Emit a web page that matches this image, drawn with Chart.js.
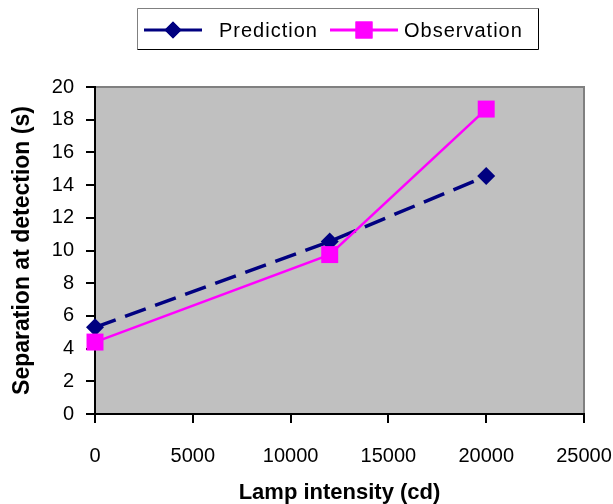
<!DOCTYPE html>
<html>
<head>
<meta charset="utf-8">
<script src="https://cdn.jsdelivr.net/npm/chart.js@4/dist/chart.umd.min.js"></script>
<style>
  html, body { margin: 0; padding: 0; background: #fff; }
  #wrap { width: 613px; height: 504px; }
</style>
</head>
<body>
<div id="wrap"><canvas id="chart" width="613" height="504"></canvas></div>
<script>
  // data
  const intensities = [0, 12000, 20000];
  const predicted = [5.3, 10.55, 14.55];
  const observed = [4.4, 9.75, 18.65];
  const seriesNames = ['Prediction', 'Observation'];
  const xTitle = 'Lamp intensity (cd)';
  const yTitle = 'Separation at detection (s)';

  const NAVY = '#000080';
  const MAGENTA = '#FF00FF';
  const FONT = '"Liberation Sans", Arial, sans-serif';

  // gray plot background with the thin gray frame on top/right
  const plotBg = {
    id: 'plotBg',
    beforeDraw(chart) {
      const { ctx, chartArea: a } = chart;
      ctx.save();
      ctx.fillStyle = '#C0C0C0';
      ctx.fillRect(a.left, a.top, a.right - a.left, a.bottom - a.top);
      ctx.strokeStyle = '#808080';
      ctx.lineWidth = 2;
      ctx.beginPath();
      ctx.moveTo(a.left, a.top);
      ctx.lineTo(a.right, a.top);
      ctx.lineTo(a.right, a.bottom);
      ctx.stroke();
      ctx.restore();
    }
  };

  // boxed legend with line + marker samples, like the spreadsheet one
  const boxLegend = {
    id: 'boxLegend',
    afterDraw(chart) {
      const ctx = chart.ctx;
      ctx.save();
      ctx.fillStyle = '#fff';
      ctx.fillRect(137.5, 8.5, 401, 41);
      ctx.lineWidth = 1;
      ctx.strokeStyle = '#808080';
      ctx.beginPath();
      ctx.moveTo(137.5, 49.5); ctx.lineTo(137.5, 8.5); ctx.lineTo(538.5, 8.5);
      ctx.stroke();
      ctx.strokeStyle = '#000';
      ctx.beginPath();
      ctx.moveTo(538.5, 8.5); ctx.lineTo(538.5, 49.5); ctx.lineTo(137.5, 49.5);
      ctx.stroke();

      const items = [
        { x0: 144, x1: 202, color: NAVY, style: 'rectRot', r: 8.5, w: 3, label: seriesNames[0], tx: 219 },
        { x0: 330, x1: 398, color: MAGENTA, style: 'rect', r: 12, w: 3, label: seriesNames[1], tx: 404 }
      ];
      const y = 30;
      items.forEach(it => {
        ctx.strokeStyle = it.color;
        ctx.lineWidth = it.w;
        ctx.setLineDash([]);
        ctx.beginPath();
        ctx.moveTo(it.x0, y);
        ctx.lineTo(it.x1, y);
        ctx.stroke();
        ctx.fillStyle = it.color;
        Chart.helpers.drawPoint(ctx, { pointStyle: it.style, radius: it.r, borderWidth: 0, rotation: 0 },
          (it.x0 + it.x1) / 2, y);
        ctx.fill();
        ctx.fillStyle = '#000';
        ctx.font = '20px ' + FONT;
        ctx.textBaseline = 'middle';
        ctx.textAlign = 'left';
        ctx.letterSpacing = '1px';
        ctx.fillText(it.label, it.tx, y + 1);
      });
      ctx.restore();
    }
  };

  new Chart(document.getElementById('chart'), {
    type: 'line',
    data: {
      datasets: [
        {
          label: seriesNames[0],
          data: intensities.map((x, i) => ({ x: x, y: predicted[i] })),
          borderColor: NAVY,
          backgroundColor: NAVY,
          borderWidth: 3.5,
          borderDash: [22, 10],
          borderCapStyle: 'butt',
          pointStyle: 'rectRot',
          pointRadius: 9,
          pointBorderWidth: 0,
          pointBackgroundColor: NAVY,
          tension: 0,
          clip: false,
          order: 1
        },
        {
          label: seriesNames[1],
          data: intensities.map((x, i) => ({ x: x, y: observed[i] })),
          borderColor: MAGENTA,
          backgroundColor: MAGENTA,
          borderWidth: 2.5,
          pointStyle: 'rect',
          pointRadius: 12,
          pointBorderWidth: 0,
          pointBackgroundColor: MAGENTA,
          tension: 0,
          clip: false,
          order: 0
        }
      ]
    },
    options: {
      responsive: false,
      animation: false,
      devicePixelRatio: 1,
      layout: { padding: { top: 87, right: 29, left: 0, bottom: 0 } },
      plugins: {
        legend: { display: false },
        tooltip: { enabled: false }
      },
      scales: {
        x: {
          type: 'linear',
          min: 0,
          max: 25000,
          afterFit: s => { s.height = 90; s.paddingLeft = 0; s.paddingRight = 0; },
          ticks: {
            stepSize: 5000,
            color: '#000',
            padding: 21,
            maxRotation: 0,
            font: { family: FONT, size: 20 },
            callback: v => String(v)
          },
          grid: { drawOnChartArea: false, color: '#000', lineWidth: 2, tickLength: 9 },
          border: { display: true, color: '#000', width: 2 },
          title: {
            display: true,
            text: xTitle,
            color: '#000',
            font: { family: FONT, size: 22, weight: 'bold', lineHeight: 1 },
            padding: { top: 0, bottom: 0 }
          }
        },
        y: {
          min: 0,
          max: 20,
          afterFit: s => { s.width = 95; },
          ticks: {
            stepSize: 2,
            color: '#000',
            padding: 12,
            font: { family: FONT, size: 20 }
          },
          grid: { drawOnChartArea: false, color: '#000', lineWidth: 2, tickLength: 9 },
          border: { display: true, color: '#000', width: 2 },
          title: {
            display: true,
            text: yTitle,
            color: '#000',
            font: { family: FONT, size: 23, weight: 'bold', lineHeight: 1 },
            padding: { top: 11, bottom: 0 }
          }
        }
      }
    },
    plugins: [plotBg, boxLegend]
  });
</script>
</body>
</html>
